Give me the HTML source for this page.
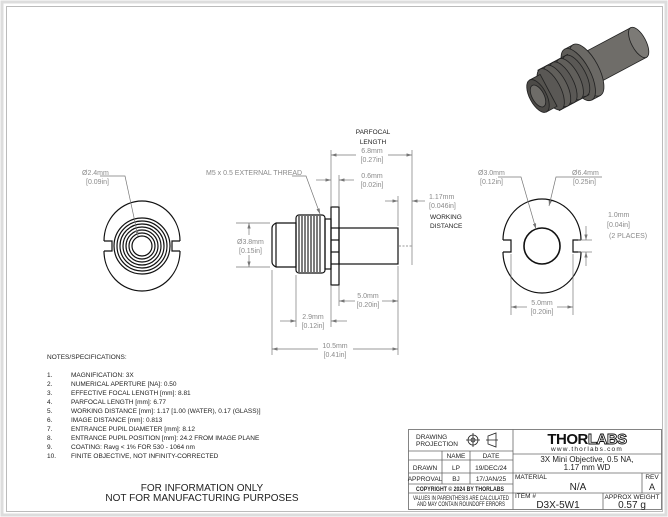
<!DOCTYPE html>
<html><head><meta charset="utf-8"><style>
html,body{margin:0;padding:0;background:#fff;width:668px;height:517px;overflow:hidden}
svg{display:block}
text{font-family:"Liberation Sans",sans-serif}
.d{fill:#8a8a8a;font-size:7px}
.b{fill:#222;font-size:6.5px}
.ln{stroke:#111;stroke-width:1.2;fill:none}
.dm{stroke:#777;stroke-width:0.7;fill:none}
.tb{stroke:#666;stroke-width:0.8;fill:none}
</style></head><body>
<svg width="668" height="517" viewBox="0 0 668 517" xmlns="http://www.w3.org/2000/svg">
<defs>
<marker id="a" viewBox="0 0 10 6" refX="10" refY="3" markerWidth="8" markerHeight="5" orient="auto-start-reverse"><path d="M0,0 L10,3 L0,6z" fill="#777"/></marker>
</defs>
<rect x="0" y="0" width="668" height="517" fill="#fff"/>
<rect x="2" y="2" width="664" height="513" fill="none" stroke="#ddd" stroke-width="3"/>
<rect x="6.5" y="6.5" width="656" height="505" fill="none" stroke="#bbb" stroke-width="1"/>

<!-- 3D view -->
<g transform="translate(538,96) rotate(-28) scale(1.2)" stroke="#222" stroke-width="0.7">
<rect x="46" y="-14" width="49" height="28" fill="#6f6d69"/>
<ellipse cx="95" cy="0" rx="6" ry="14" fill="#7c7a76"/>
<rect x="38" y="-24" width="8" height="48" fill="#64625e"/>
<ellipse cx="46" cy="0" rx="10" ry="24" fill="#6b6965"/>
<ellipse cx="38" cy="0" rx="10" ry="24" fill="#5e5c58"/>
<rect x="10" y="-19" width="28" height="38" fill="#5a5855"/>
<ellipse cx="36" cy="0" rx="8" ry="19" fill="#5a5855"/>
<ellipse cx="30" cy="0" rx="8" ry="19" fill="#615f5b"/>
<ellipse cx="24" cy="0" rx="8" ry="19" fill="#5a5855"/>
<ellipse cx="18" cy="0" rx="8" ry="19" fill="#615f5b"/>
<ellipse cx="12" cy="0" rx="8" ry="19" fill="#5a5855"/>
<rect x="0" y="-15" width="10" height="30" fill="#55534f"/>
<ellipse cx="0" cy="0" rx="7" ry="15" fill="#4c4a47"/>
<ellipse cx="0" cy="0" rx="5" ry="10" fill="#6e6c68"/>
</g>

<!-- left end view -->
<g class="ln" stroke-width="0.9">
<path d="M104,241 A38,40 0 0 1 180,241 M104,251 A38,40 0 0 0 180,251"/>
<path d="M104,241 L112,241 L112,251 L104,251 M180,241 L172,241 L172,251 L180,251"/>
<circle cx="142" cy="246" r="28"/><circle cx="142" cy="246" r="25"/><circle cx="142" cy="246" r="22"/>
<circle cx="142" cy="246" r="19"/><circle cx="142" cy="246" r="16"/><circle cx="142" cy="246" r="13"/><circle cx="142" cy="246" r="10"/>
</g>
<path class="dm" d="M100,176 L125,176 L138,236" marker-end="url(#a)"/>
<text class="d" x="82" y="175">Ø2.4mm</text><text class="d" x="86" y="184">[0.09in]</text>

<!-- side view -->
<g class="ln" stroke-width="1">
<path d="M276,223 L296,223 L296,267 L276,267 Q272,265 272,262 L272,228 Q272,225 276,223Z"/>
<line x1="276" y1="223" x2="276" y2="267"/>
<rect x="296" y="215" width="29" height="58" rx="3"/>
<rect x="325" y="219" width="6" height="50"/>
<rect x="331" y="207" width="8" height="78"/>
<line x1="331" y1="228" x2="339" y2="228"/><line x1="331" y1="240" x2="339" y2="240"/><line x1="331" y1="252" x2="339" y2="252"/><line x1="331" y1="264" x2="339" y2="264"/>
<rect x="339" y="228" width="59" height="36"/>
</g>
<g stroke="#111" stroke-width="1.1">
<path d="M299,216 L299,272 M302,216 L302,272 M305,216 L305,272 M308,216 L308,272 M311,216 L311,272 M314,216 L314,272 M317,216 L317,272 M320,216 L320,272"/>
</g>
<!-- side dims -->
<g class="dm">
<line x1="331" y1="150" x2="331" y2="206"/><line x1="412" y1="150" x2="412" y2="265"/>
<line x1="339" y1="175" x2="339" y2="206"/>
<line x1="398" y1="196" x2="398" y2="226"/>
<line x1="398" y1="266" x2="398" y2="355"/><line x1="339" y1="286" x2="339" y2="306"/>
<line x1="272" y1="270" x2="272" y2="355"/><line x1="296" y1="275" x2="296" y2="327"/><line x1="331" y1="286" x2="331" y2="327"/>
<line x1="236" y1="223" x2="270" y2="223"/><line x1="236" y1="267" x2="270" y2="267"/>
<line x1="399" y1="246" x2="412" y2="246" stroke-dasharray="2,1.5"/>
<path d="M356,155 L331,155" marker-end="url(#a)"/><path d="M388,155 L412,155" marker-end="url(#a)"/>
<path d="M316,180 L331,180" marker-end="url(#a)"/><path d="M354,180 L339,180" marker-end="url(#a)"/>
<path d="M385,201 L398,201" marker-end="url(#a)"/><path d="M425,201 L412,201" marker-end="url(#a)"/>
<path d="M355,301 L339,301" marker-end="url(#a)"/><path d="M382,301 L398,301" marker-end="url(#a)"/>
<path d="M280,321 L296,321" marker-end="url(#a)"/><path d="M347,321 L331,321" marker-end="url(#a)"/>
<path d="M318,349 L272,349" marker-end="url(#a)"/><path d="M353,349 L398,349" marker-end="url(#a)"/>
<path d="M249,235 L249,223" marker-end="url(#a)"/><path d="M249,255 L249,267" marker-end="url(#a)"/>
<path d="M292,176 L306,176 L320,214" marker-end="url(#a)"/>
</g>
<text class="b" x="373" y="134" text-anchor="middle">PARFOCAL</text>
<text class="b" x="373" y="144" text-anchor="middle">LENGTH</text>
<text class="d" x="372" y="153" text-anchor="middle">6.8mm</text><text class="d" x="372" y="162" text-anchor="middle">[0.27in]</text>
<text class="d" x="372" y="178" text-anchor="middle">0.6mm</text><text class="d" x="372" y="187" text-anchor="middle">[0.02in]</text>
<text class="d" x="429" y="199">1.17mm</text><text class="d" x="429" y="208">[0.046in]</text>
<text class="b" x="430" y="219">WORKING</text><text class="b" x="430" y="228">DISTANCE</text>
<text class="d" x="206" y="175">M5 x 0.5 EXTERNAL THREAD</text>
<text class="d" x="237" y="244">Ø3.8mm</text><text class="d" x="239" y="253">[0.15in]</text>
<text class="d" x="368" y="298" text-anchor="middle">5.0mm</text><text class="d" x="368" y="307" text-anchor="middle">[0.20in]</text>
<text class="d" x="313" y="319" text-anchor="middle">2.9mm</text><text class="d" x="313" y="328" text-anchor="middle">[0.12in]</text>
<text class="d" x="335" y="348" text-anchor="middle">10.5mm</text><text class="d" x="335" y="357" text-anchor="middle">[0.41in]</text>

<!-- right end view -->
<g class="ln" stroke-width="1">
<path d="M503,240 A39,41 0 0 1 581,240 M503,252 A39,41 0 0 0 581,252"/>
<path d="M503,240 L511,240 L511,252 L503,252 M581,240 L573,240 L573,252 L581,252"/>
<circle cx="542" cy="246" r="18" stroke-width="1.6"/>
</g>
<g class="dm">
<path d="M498,177 L521,177 L536,229" marker-end="url(#a)"/>
<path d="M602,177 L556,177 L549,206" marker-end="url(#a)"/>
<line x1="511" y1="254" x2="511" y2="315"/><line x1="573" y1="254" x2="573" y2="315"/>
<path d="M527,307 L511,307" marker-end="url(#a)"/><path d="M557,307 L573,307" marker-end="url(#a)"/>
<line x1="578" y1="240" x2="592" y2="240"/><line x1="578" y1="252" x2="592" y2="252"/>
<path d="M586,226 L586,240" marker-end="url(#a)"/><path d="M586,266 L586,252" marker-end="url(#a)"/>
</g>
<text class="d" x="478" y="175">Ø3.0mm</text><text class="d" x="480" y="184">[0.12in]</text>
<text class="d" x="572" y="175">Ø6.4mm</text><text class="d" x="573" y="184">[0.25in]</text>
<text class="d" x="608" y="217">1.0mm</text><text class="d" x="607" y="227">[0.04in]</text><text class="d" x="609" y="238">(2 PLACES)</text>
<text class="d" x="542" y="305" text-anchor="middle">5.0mm</text><text class="d" x="542" y="314" text-anchor="middle">[0.20in]</text>

<!-- notes -->
<g class="b" font-size="6.3">
<text x="47" y="359" class="b">NOTES/SPECIFICATIONS:</text>
<text x="47" y="377">1.</text><text x="71" y="377">MAGNIFICATION: 3X</text>
<text x="47" y="386">2.</text><text x="71" y="386">NUMERICAL APERTURE [NA]: 0.50</text>
<text x="47" y="395">3.</text><text x="71" y="395">EFFECTIVE FOCAL LENGTH [mm]: 8.81</text>
<text x="47" y="404">4.</text><text x="71" y="404">PARFOCAL LENGTH [mm]: 6.77</text>
<text x="47" y="413">5.</text><text x="71" y="413">WORKING DISTANCE [mm]: 1.17 [1.00 (WATER), 0.17 (GLASS)]</text>
<text x="47" y="422">6.</text><text x="71" y="422">IMAGE DISTANCE [mm]: 0.813</text>
<text x="47" y="431">7.</text><text x="71" y="431">ENTRANCE PUPIL DIAMETER [mm]: 8.12</text>
<text x="47" y="440">8.</text><text x="71" y="440">ENTRANCE PUPIL POSITION [mm]: 24.2 FROM IMAGE PLANE</text>
<text x="47" y="449">9.</text><text x="71" y="449">COATING: Ravg &lt; 1% FOR 530 - 1064 nm</text>
<text x="47" y="458">10.</text><text x="71" y="458">FINITE OBJECTIVE, NOT INFINITY-CORRECTED</text>
</g>
<text x="202" y="491" text-anchor="middle" font-size="10" fill="#222">FOR INFORMATION ONLY</text>
<text x="202" y="501" text-anchor="middle" font-size="10" fill="#222">NOT FOR MANUFACTURING PURPOSES</text>

<!-- title block -->
<g class="tb">
<rect x="408.5" y="429.5" width="253" height="80"/>
<line x1="513" y1="429.5" x2="513" y2="509.5"/>
<line x1="408.5" y1="451" x2="513" y2="451"/>
<line x1="408.5" y1="460" x2="513" y2="460"/>
<line x1="408.5" y1="473" x2="661.5" y2="473"/>
<line x1="408.5" y1="484" x2="513" y2="484"/>
<line x1="408.5" y1="493" x2="661.5" y2="493"/>
<line x1="513" y1="454" x2="661.5" y2="454"/>
<line x1="442" y1="451" x2="442" y2="484"/>
<line x1="470" y1="451" x2="470" y2="484"/>
<line x1="642" y1="473" x2="642" y2="493"/>
<line x1="603" y1="493" x2="603" y2="509.5"/>
</g>
<text class="b" x="416" y="439" font-size="6">DRAWING</text><text class="b" x="416" y="446" font-size="6">PROJECTION</text>
<g stroke="#222" stroke-width="0.8" fill="none"><circle cx="473" cy="440" r="5"/><circle cx="473" cy="440" r="2"/><path d="M466,440 L480,440 M473,433 L473,447"/>
<path d="M488,436 L496,433 L496,447 L488,444 Z M486,440 L498,440" /></g>
<text class="b" x="456" y="458" text-anchor="middle" font-size="6">NAME</text><text class="b" x="491" y="458" text-anchor="middle" font-size="6">DATE</text>
<text class="b" x="425" y="470" text-anchor="middle" font-size="5.5">DRAWN</text><text class="b" x="456" y="470" text-anchor="middle" font-size="6">LP</text><text class="b" x="491" y="470" text-anchor="middle" font-size="6">19/DEC/24</text>
<text class="b" x="425" y="481" text-anchor="middle" font-size="5.5">APPROVAL</text><text class="b" x="456" y="481" text-anchor="middle" font-size="6">BJ</text><text class="b" x="491" y="481" text-anchor="middle" font-size="6">17/JAN/25</text>
<text class="b" x="416" y="491" font-size="4.2" font-weight="bold" textLength="88" lengthAdjust="spacingAndGlyphs">COPYRIGHT © 2024 BY THORLABS</text>
<text class="b" x="413" y="500" font-size="4" textLength="96" lengthAdjust="spacingAndGlyphs">VALUES IN PARENTHESIS ARE CALCULATED</text>
<text class="b" x="417" y="506" font-size="4" textLength="88" lengthAdjust="spacingAndGlyphs">AND MAY CONTAIN ROUNDOFF ERRORS</text>
<text x="587" y="444" text-anchor="middle" font-size="15" font-weight="bold" font-family="Liberation Sans" letter-spacing="-0.5"><tspan fill="#111">THOR</tspan><tspan fill="#fff" stroke="#111" stroke-width="0.9">LABS</tspan></text>
<text class="b" x="587" y="451" text-anchor="middle" font-size="6.5" letter-spacing="1.2">www.thorlabs.com</text>
<text x="587" y="462" text-anchor="middle" font-size="8" fill="#222">3X Mini Objective, 0.5 NA,</text>
<text x="587" y="470" text-anchor="middle" font-size="8" fill="#222">1.17 mm WD</text>
<text class="b" x="515" y="479" font-size="5.5">MATERIAL</text>
<text x="578" y="490" text-anchor="middle" font-size="10" fill="#222">N/A</text>
<text class="b" x="652" y="479" text-anchor="middle" font-size="5.5">REV</text>
<text x="652" y="490" text-anchor="middle" font-size="9" fill="#222">A</text>
<text class="b" x="515" y="498" font-size="5.5">ITEM #</text>
<text x="558" y="508" text-anchor="middle" font-size="10" fill="#222">D3X-5W1</text>
<text class="b" x="632" y="499" text-anchor="middle" font-size="6">APPROX WEIGHT</text>
<text x="632" y="508" text-anchor="middle" font-size="10" fill="#222">0.57 g</text>
</svg>
</body></html>
